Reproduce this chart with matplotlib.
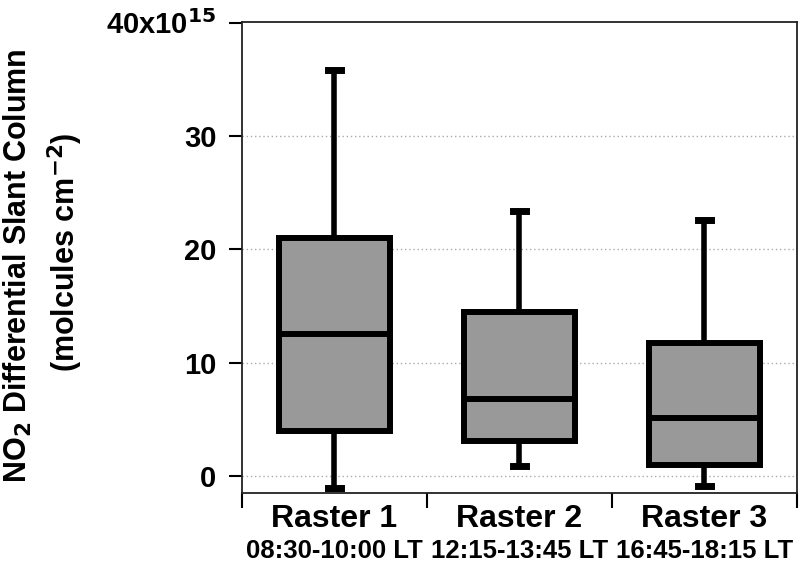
import matplotlib.pyplot as plt
import numpy as np

# box statistics (units of 1e15 molecules cm-2)
rasters = ["Raster 1", "Raster 2", "Raster 3"]
times = ["08:30-10:00 LT", "12:15-13:45 LT", "16:45-18:15 LT"]
whis_lo = [-1.1, 0.85, -0.9]
q1 = [4.0, 3.1, 1.0]
med = [12.5, 6.8, 5.1]
q3 = [21.0, 14.5, 11.7]
whis_hi = [35.8, 23.4, 22.6]

plt.rcParams['font.family'] = ['Liberation Sans', 'DejaVu Sans']
plt.rcParams['font.weight'] = 'bold'

fig = plt.figure(figsize=(8, 5.63), dpi=100)
ax = fig.add_axes([0.3025, 0.1243, 0.6935, 0.8367])

stats = []
for i in range(len(rasters)):
    stats.append({'med': med[i], 'q1': q1[i], 'q3': q3[i],
                  'whislo': whis_lo[i], 'whishi': whis_hi[i], 'fliers': []})

pos = np.arange(len(rasters))
ax.bxp(stats, positions=pos, widths=0.6, capwidths=0.07, patch_artist=True,
       showfliers=False,
       boxprops=dict(facecolor='#999999', edgecolor='black', linewidth=4.3),
       medianprops=dict(color='black', linewidth=4.3),
       whiskerprops=dict(color='black', linewidth=4.0, solid_capstyle='butt'),
       capprops=dict(color='black', linewidth=5.0))

ax.set_xlim(-0.5, 2.5)
ax.set_ylim(-1.5, 40.05)

for y in [0, 10, 20, 30]:
    ax.axhline(y, color='#aaaaaa', linestyle=(0, (1, 2)), linewidth=1, zorder=0)

ax.set_yticks([0, 10, 20, 30, 40])
ax.set_yticklabels(['0', '10', '20', '30', '40x10$^{\\mathbf{15}}$'], fontsize=21, fontweight='bold')
ax.tick_params(axis='y', direction='out', length=9.5, width=1.5, pad=9)

ax.set_xticks([-0.5, 0.5, 1.5, 2.5])
ax.set_xticklabels([])
ax.tick_params(axis='x', which='major', direction='out', length=11, width=1.5)
ax.set_xticks(pos, minor=True)
ax.set_xticklabels(rasters, minor=True, fontsize=23, fontweight='bold')
ax.tick_params(axis='x', which='minor', length=0, pad=8)
for p, t in zip(pos, times):
    ax.text(p, -0.098, t, transform=ax.get_xaxis_transform(), ha='center', va='top',
            fontsize=18.5, fontweight='bold')

for s in ax.spines.values():
    s.set_linewidth(1.3)
    s.set_color('#222222')

fig.text(0.0225, 0.5275, "NO$_\\mathbf{2}$ Differential Slant Column", rotation=90,
         ha='center', va='center', fontsize=22, fontweight='bold')
fig.text(0.081, 0.552, "(molcules cm$^{\\mathbf{-2}}$)", rotation=90,
         ha='center', va='center', fontsize=22, fontweight='bold')

fig.savefig('out.png', dpi=100)
